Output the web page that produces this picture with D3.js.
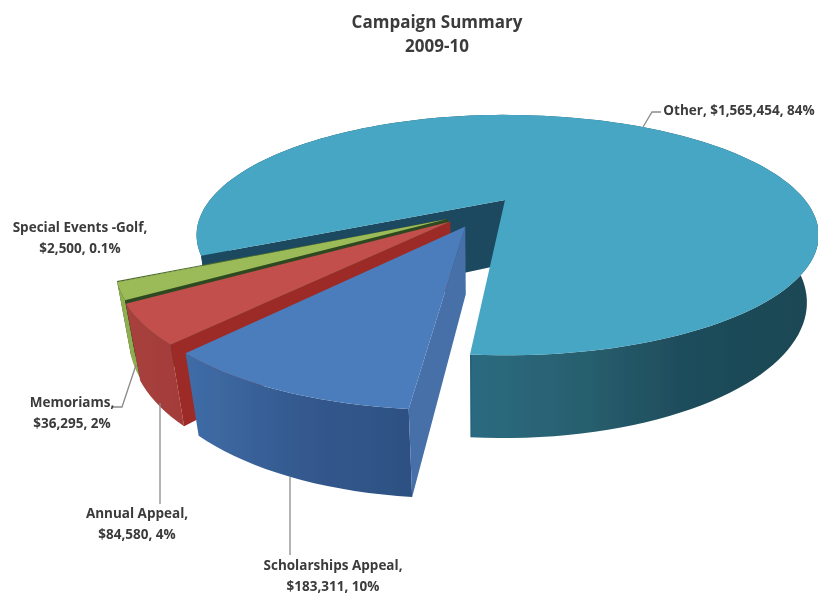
<!DOCTYPE html>
<html><head><meta charset="utf-8">
<script src="https://cdn.jsdelivr.net/npm/d3@7/dist/d3.min.js"></script>
<style>html,body{margin:0;background:#fff}svg{display:block}
text{font-family:"Open Sans",Lato,sans-serif;font-weight:700;fill:#3a3a3a;text-anchor:middle}</style>
</head><body><svg width="818" height="600"></svg>
<script>
const categories=["Other","Scholarships Appeal","Annual Appeal","Memoriams","Special Events -Golf"];
const amounts=[1565454,183311,84580,36295,2500];
const percents=["84%","10%","4%","2%","0.1%"];
const titleLines=["Campaign Summary","2009-10"];

const W=818,H=600,rad=d=>d*Math.PI/180;
const svg=d3.select("svg");
const defs=svg.append("defs");
defs.append("filter").attr("id","soft").attr("x","-5%").attr("y","-5%").attr("width","110%").attr("height","110%")
  .append("feGaussianBlur").attr("stdDeviation",0.6);
defs.append("filter").attr("id","softT").attr("x","-5%").attr("y","-20%").attr("width","110%").attr("height","140%")
  .append("feGaussianBlur").attr("stdDeviation",0.4);
function grad(id,stops,x1,x2){
  const g=defs.append("linearGradient").attr("id",id).attr("gradientUnits","userSpaceOnUse")
    .attr("x1",x1).attr("x2",x2).attr("y1",0).attr("y2",0);
  stops.forEach(([o,c])=>g.append("stop").attr("offset",o).attr("stop-color",c));
  return `url(#${id})`;
}
const styles=[
 {top:"#47a6c4",side:grad("g0",[[0,"#1b4a5f"],[.44,"#1b4a5f"],[.45,"#2b6a80"],[.62,"#28606f"],[.78,"#1f4d5c"],[1,"#1c4654"]],190,818),cut:"#1b4a5f",ex:0,dir:0},
 {top:"#4b7dbc",side:grad("g1",[[0,"#3f6ca6"],[.5,"#34598e"],[1,"#2d5082"]],190,415),cut:"#4670a9",ex:.258,dir:209.2},
 {top:"#c2504c",side:grad("g2",[[0,"#a8423f"],[1,"#a23a38"]],125,190),cut:"#9c2b25",ex:.255,dir:223.4},
 {top:"#9abb58",side:"#8eae4f",cut:"#2f4a22",ex:.248,dir:228.3},
 {top:"#4d6b2c",side:"#42602a",cut:"#24381a",ex:.248,dir:228.3}
];

// view parameters (perspective of the plate)
const p=.292,q=.033,depth=66.4,xVanish=480;
const sx=d3.scaleLinear().domain([-1,0,1]).range([210,505,805]);
const sy=d3.scaleLinear().domain([0,1]).range([200,310]);
const proj=(u,v)=>{const w=1-p*v;return [sx(u/w),sy(v/w)];};
const projB=(u,v)=>{const w=1-p*v,w2=w+q,x=sx(u/w);
  return [xVanish+(x-xVanish)*w/w2,sy((v+depth/110)/w2)];};
const polar=(a,o)=>[o[0]+Math.sin(a),o[1]-Math.cos(a)];
const line=d3.line();
const closed=pts=>line(pts)+"Z";

const pie=d3.pie().sort(null).startAngle(rad(243.8)).endAngle(rad(243.8+360));
const arcs=pie(amounts);
const plate=svg.append("g").attr("filter","url(#soft)");

function geom(i){
  const a=arcs[i],st=styles[i],d=rad(st.dir);
  const o=[st.ex*Math.sin(d),-st.ex*Math.cos(d)];
  const n=Math.max(4,Math.ceil((a.endAngle-a.startAngle)/rad(2)));
  const ang=d3.range(n+1).map(k=>a.startAngle+(a.endAngle-a.startAngle)*k/n);
  return {a,st,o,ang};
}
function drawCut(g,angle){
  const e=polar(angle,g.o);
  plate.append("path").attr("d",closed([proj(...g.o),proj(...e),projB(...e),projB(...g.o)])).attr("fill",g.st.cut);
}
function drawOuter(g){
  const rim=g.ang.map(t=>polar(t,g.o));
  plate.append("path").attr("d",closed([...rim.map(r=>proj(...r)),...rim.slice().reverse().map(r=>projB(...r))])).attr("fill",g.st.side);
}
function drawTop(g){
  const rim=g.ang.map(t=>proj(...polar(t,g.o)));
  plate.append("path").attr("d",closed([proj(...g.o),...rim])).attr("fill",g.st.top);
}
// back to front: Other, Special Events, Memoriams, Annual, Scholarships
[0,4,3,2,1].forEach(i=>{
  const g=geom(i);
  if(i===0){drawCut(g,g.a.startAngle);drawOuter(g);drawTop(g);return;}
  drawOuter(g);
  drawCut(g,g.a.startAngle);
  drawTop(g);
});

// leader lines
const leaders=[
 [[661,112],[652,112],[643,127]],
 [[113,407],[122,407],[136,365]],
 [[160,403],[160,504]],
 [[290,477],[290,555]]
];
svg.append("g").attr("filter","url(#softT)").selectAll("path").data(leaders).join("path")
  .attr("d",d=>line(d)).attr("fill","none").attr("stroke","#8a8a8a").attr("stroke-width",1.3);

// labels
const fmt=d3.format("$,");
const labelBoxes=[
 {i:0,x:739,y:115,one:true},
 {i:1,x:333,y:570},
 {i:2,x:137,y:518},
 {i:3,x:72,y:407},
 {i:4,x:80,y:232}
];
const txt=svg.append("g").attr("filter","url(#softT)");
labelBoxes.forEach(b=>{
  const nm=categories[b.i],v=fmt(amounts[b.i]),pc=percents[b.i];
  if(b.one){txt.append("text").attr("x",b.x).attr("y",b.y).attr("font-size",13.5).text(`${nm}, ${v}, ${pc}`);return;}
  txt.append("text").attr("x",b.x).attr("y",b.y).attr("font-size",13.5).text(nm+",");
  txt.append("text").attr("x",b.x).attr("y",b.y+21).attr("font-size",13.5).text(`${v}, ${pc}`);
});
titleLines.forEach((t,k)=>txt.append("text").attr("x",437).attr("y",28+k*24).attr("font-size",17).text(t));
</script></body></html>
